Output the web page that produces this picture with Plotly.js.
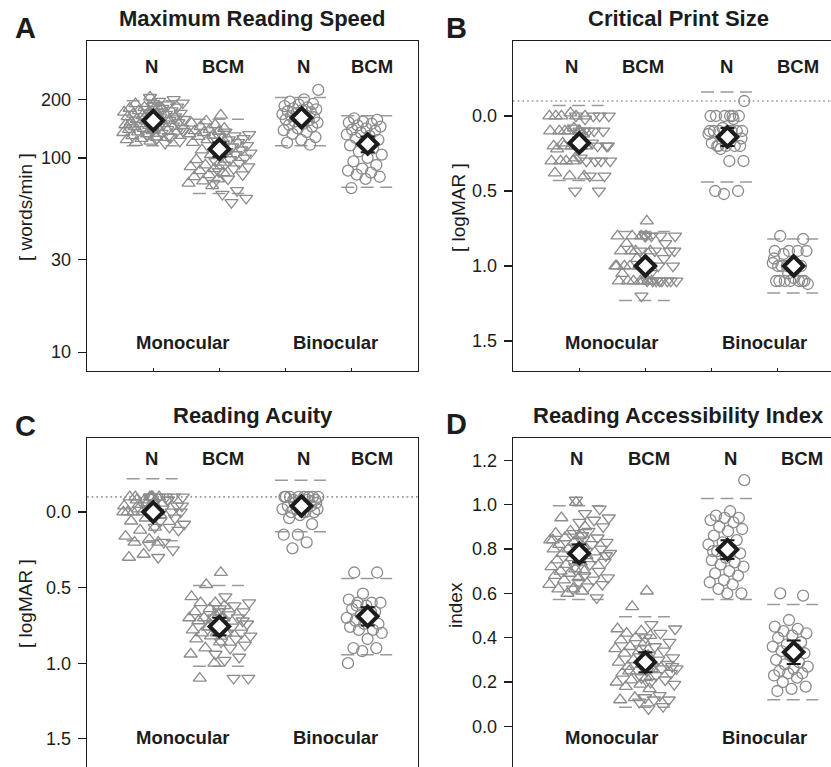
<!DOCTYPE html>
<html><head><meta charset="utf-8">
<script src="https://cdn.plot.ly/plotly-3.0.1.min.js"></script>
<style>html,body{margin:0;padding:0;overflow:hidden;background:#fff}#chart{width:850px;height:790px}</style>
</head><body><div id="chart"></div><script>
// ---------- labels ----------
const panelLetters = ['A', 'B', 'C', 'D'];
const panelTitles = ['Maximum Reading Speed', 'Critical Print Size', 'Reading Acuity', 'Reading Accessibility Index'];
const yTitles = ['[ words/min ]', '[ logMAR ]', '[ logMAR ]', 'index'];
const groupLabels = ['N', 'BCM', 'N', 'BCM'];
const viewLabels = ['Monocular', 'Binocular'];
const speedTicks = [10, 30, 100, 200];
const logmarTicks = ['0.0', '0.5', '1.0', '1.5'];
const indexTicks = ['0.0', '0.2', '0.4', '0.6', '0.8', '1.0', '1.2'];

// ---------- A: maximum reading speed (words/min) ----------
const speedMonoNUp = [206,190,185,182,180,178,175,172,170,168,166,165,163,160,158,157,155,153,152,150,148,147,145,143,142,140,138,136,135,133,130,128,126,124,122,120,176,162,149,139];
const speedMonoNDown = [205,200,196,192,188,185,183,180,178,175,172,170,168,165,163,161,158,156,154,152,150,148,146,144,142,140,138,136,134,131,128,125,122,119,171,159,147,137,129,186];
const speedMonoBCMUp = [166,155,151,148,145,142,140,138,137,135,133,131,129,126,124,120,115,110,108,104,98,95,92,90,88,86,84,82,80,78,76,74,72];
const speedMonoBCMDown = [136,132,130,128,126,124,122,120,118,116,114,112,110,108,106,104,102,100,98,96,94,92,90,88,85,82,78,74,68,65,62,59];
const speedBinoN = [224,200,195,190,188,185,182,180,178,176,174,172,170,168,166,164,162,160,158,156,154,152,150,148,145,142,139,136,133,128,124,120,117];
const speedBinoBCM = [160,157,154,152,150,147,145,142,140,138,135,132,130,127,124,120,116,112,108,104,100,96,92,88,86,84,82,80,78,70];
const speedMeans = [155.7, 111, 161, 118];
const speedErrPlus = [5, 9, 7, 11];
const speedErrMinus = [5, 9.5, 7, 11];
const speedUpper = [197, 158, 205, 165];
const speedLower = [115.7, 65.7, 115.7, 70.7];

// ---------- B: critical print size (logMAR) ----------
const cpsMonoNUp = [0.0,0.0,0.0,-0.02,0.0,0.1,0.1,0.1,0.08,0.1,0.12,0.1,0.2,0.2,0.18,0.2,0.2,0.22,0.2,0.3,0.3,0.28,0.3,0.4,0.4,0.38,0.1,0.2,0.0,0.3];
const cpsMonoNDown = [0.0,0.0,0.02,0.0,0.1,0.1,0.1,0.1,0.08,0.2,0.2,0.2,0.18,0.2,0.3,0.3,0.3,0.3,0.28,0.4,0.4,0.5,0.5,0.1,0.2,0.0];
const cpsMonoBCMUp = [0.7,0.8,0.8,0.8,0.85,0.9,0.9,0.9,1.0,1.0,1.0,1.0,1.0,1.1,1.1,1.1,1.1,1.1,1.1,0.95,1.05,0.8,0.9,1.0,1.1];
const cpsMonoBCMDown = [0.8,0.8,0.8,0.8,0.9,0.9,0.9,0.95,1.0,1.0,1.0,1.0,1.1,1.1,1.1,1.1,1.1,1.1,1.1,1.2,0.85,1.05,0.9,1.1,0.8];
const cpsBinoN = [-0.1,0.0,0.0,0.0,0.0,0.0,0.02,0.1,0.1,0.1,0.1,0.1,0.08,0.12,0.1,0.2,0.2,0.2,0.18,0.2,0.22,0.3,0.3,0.5,0.5,0.52,0.1,0.0,0.2,0.15];
const cpsBinoBCM = [0.8,0.82,0.9,0.9,0.9,0.92,0.9,1.0,1.0,1.0,1.0,0.98,1.02,1.0,1.1,1.1,1.1,1.1,1.1,1.12,1.08,1.1,1.1,1.05,0.95];
const cpsMeans = [0.18, 1.0, 0.14, 1.0];
const cpsErr = [0.035, 0.025, 0.06, 0.03];
const cpsUpper = [-0.07, 0.77, -0.16, 0.82];
const cpsLower = [0.43, 1.23, 0.44, 1.18];

// ---------- C: reading acuity (logMAR) ----------
const acuMonoNUp = [-0.1,-0.1,-0.1,-0.08,-0.1,-0.06,-0.05,-0.04,-0.02,0.0,0.0,0.0,0.0,-0.1,-0.08,0.02,0.04,0.06,0.1,0.12,0.16,0.18,0.2,0.2,0.28,0.3,-0.1,-0.02,0.0,-0.06];
const acuMonoNDown = [-0.1,-0.1,-0.1,-0.1,-0.08,-0.06,-0.04,-0.02,-0.02,0.0,0.0,0.0,-0.1,-0.1,0.04,0.06,0.08,0.1,0.1,0.12,0.2,0.22,0.25,0.3,-0.04,-0.08];
const acuMonoBCMUp = [0.4,0.48,0.56,0.6,0.6,0.62,0.64,0.66,0.68,0.7,0.7,0.7,0.72,0.74,0.76,0.78,0.8,0.8,0.8,0.82,0.84,0.86,0.9,0.94,1.0,1.1,0.7,0.76];
const acuMonoBCMDown = [0.56,0.6,0.62,0.64,0.66,0.68,0.7,0.7,0.72,0.74,0.76,0.78,0.8,0.8,0.82,0.84,0.86,0.88,0.9,0.94,0.96,0.98,1.1,1.1,0.66,0.72];
const acuBinoN = [-0.1,-0.1,-0.1,-0.1,-0.1,-0.1,-0.08,-0.08,-0.06,-0.06,-0.04,-0.04,-0.02,-0.02,0.0,0.0,0.0,0.02,-0.1,-0.1,-0.06,-0.02,0.0,0.04,0.08,0.15,0.15,0.2,0.24,-0.08];
const acuBinoBCM = [0.4,0.4,0.54,0.58,0.6,0.6,0.6,0.62,0.64,0.66,0.68,0.7,0.7,0.72,0.74,0.74,0.76,0.78,0.78,0.8,0.84,0.9,0.9,0.92,1.0,0.66,0.62];
const acuMeans = [0.0, 0.757, -0.04, 0.69];
const acuErr = [0.03, 0.058, 0.03, 0.06];
const acuUpper = [-0.22, 0.486, -0.21, 0.44];
const acuLower = [0.19, 1.02, 0.13, 0.945];

// ---------- D: reading accessibility index ----------
const raiMonoNUp = [1.01,0.94,0.9,0.88,0.87,0.86,0.85,0.84,0.83,0.82,0.81,0.8,0.8,0.79,0.78,0.77,0.76,0.75,0.74,0.73,0.72,0.71,0.7,0.7,0.69,0.68,0.67,0.66,0.64,0.62,0.62,0.61,0.6,0.84,0.78];
const raiMonoNDown = [1.02,0.98,0.96,0.94,0.93,0.92,0.9,0.88,0.87,0.85,0.84,0.83,0.82,0.81,0.8,0.79,0.78,0.76,0.75,0.74,0.73,0.72,0.7,0.68,0.67,0.66,0.65,0.64,0.63,0.62,0.58,0.86,0.77];
const raiMonoBCMUp = [0.61,0.54,0.44,0.43,0.42,0.41,0.4,0.39,0.38,0.36,0.35,0.34,0.33,0.32,0.3,0.29,0.28,0.27,0.26,0.25,0.24,0.22,0.21,0.2,0.19,0.18,0.17,0.13,0.12,0.3,0.25];
const raiMonoBCMDown = [0.46,0.44,0.42,0.4,0.38,0.36,0.35,0.34,0.32,0.31,0.3,0.29,0.28,0.27,0.26,0.26,0.25,0.24,0.23,0.22,0.21,0.2,0.19,0.14,0.13,0.12,0.12,0.11,0.09,0.08,0.27];
const raiBinoN = [1.11,0.97,0.95,0.94,0.94,0.93,0.92,0.9,0.89,0.88,0.86,0.84,0.83,0.82,0.8,0.79,0.78,0.76,0.75,0.74,0.73,0.72,0.7,0.69,0.68,0.66,0.65,0.64,0.62,0.6,0.6,0.79];
const raiBinoBCM = [0.6,0.59,0.48,0.45,0.44,0.43,0.42,0.41,0.4,0.38,0.37,0.36,0.35,0.34,0.33,0.32,0.3,0.29,0.28,0.27,0.26,0.25,0.24,0.24,0.23,0.22,0.2,0.18,0.17,0.16];
const raiMeans = [0.78, 0.29, 0.797, 0.335];
const raiErr = [0.04, 0.045, 0.042, 0.053];
const raiUpper = [0.995, 0.494, 1.027, 0.55];
const raiLower = [0.572, 0.087, 0.572, 0.12];

// ---------- layout helpers ----------
const W = 850, H = 790;
const GRAY = '#8c8c8c', INK = '#1c1c1c';
const FONT = 'Liberation Sans, Arial, sans-serif';
const centers = [1, 2, 3.24, 4.24];
const px = x => x / W, py = y => 1 - y / H;

function spread(n, lo, width, phase) {
  const out = [];
  for (let i = 0; i < n; i++) out.push(lo + width * (((i + 1) * 0.6180339887 + phase) % 1));
  return out;
}

const panels = [
  {mU: speedMonoNUp, mD: speedMonoNDown, bU: speedMonoBCMUp, bD: speedMonoBCMDown, bn: speedBinoN, bb: speedBinoBCM,
   means: speedMeans, ep: speedErrPlus, em: speedErrMinus, up: speedUpper, lo: speedLower, dotted: false},
  {mU: cpsMonoNUp, mD: cpsMonoNDown, bU: cpsMonoBCMUp, bD: cpsMonoBCMDown, bn: cpsBinoN, bb: cpsBinoBCM,
   means: cpsMeans, ep: cpsErr, em: cpsErr, up: cpsUpper, lo: cpsLower, dotted: true},
  {mU: acuMonoNUp, mD: acuMonoNDown, bU: acuMonoBCMUp, bD: acuMonoBCMDown, bn: acuBinoN, bb: acuBinoBCM,
   means: acuMeans, ep: acuErr, em: acuErr, up: acuUpper, lo: acuLower, dotted: true},
  {mU: raiMonoNUp, mD: raiMonoNDown, bU: raiMonoBCMUp, bD: raiMonoBCMDown, bn: raiBinoN, bb: raiBinoBCM,
   means: raiMeans, ep: raiErr, em: raiErr, up: raiUpper, lo: raiLower, dotted: false}
];

const traces = [];
panels.forEach((d, k) => {
  const xa = k === 0 ? 'x' : 'x' + (k + 1), ya = k === 0 ? 'y' : 'y' + (k + 1);
  const mk = (sym, size) => ({symbol: sym, size: size, color: GRAY, line: {color: GRAY, width: 1.3}});
  const dx = [], dy = [];
  for (let g = 0; g < 4; g++) {
    const c = centers[g];
    dx.push(c - 0.4, c + 0.37, null, c - 0.4, c + 0.37, null);
    dy.push(d.up[g], d.up[g], null, d.lo[g], d.lo[g], null);
  }
  traces.push({x: dx, y: dy, xaxis: xa, yaxis: ya, mode: 'lines', connectgaps: false,
    line: {color: '#9a9a9a', width: 1.5, dash: '13px,6.5px'}, hoverinfo: 'skip'});
  if (d.dotted) {
    traces.push({x: [0, 5], y: [-0.1, -0.1], xaxis: xa, yaxis: ya, mode: 'lines',
      line: {color: '#9a9a9a', width: 1.7, dash: '1.7px,3px'}, hoverinfo: 'skip'});
  }
  const add = (vals, xs, sym, size) => traces.push({x: xs, y: vals, xaxis: xa, yaxis: ya, mode: 'markers', marker: mk(sym, size)});
  add(d.mU, spread(d.mU.length, centers[0] - 0.47, 0.58, 0.11), 'triangle-up-open', 11.5);
  add(d.mD, spread(d.mD.length, centers[0] - 0.1, 0.58, 0.47), 'triangle-down-open', 11.5);
  add(d.bU, spread(d.bU.length, centers[1] - 0.47, 0.58, 0.23), 'triangle-up-open', 11.5);
  add(d.bD, spread(d.bD.length, centers[1] - 0.1, 0.58, 0.71), 'triangle-down-open', 11.5);
  add(d.bn, spread(d.bn.length, centers[2] - 0.3, 0.56, 0.37), 'circle-open', 11);
  add(d.bb, spread(d.bb.length, centers[3] - 0.32, 0.56, 0.59), 'circle-open', 11);
  traces.push({x: centers, y: d.means, xaxis: xa, yaxis: ya, mode: 'markers',
    marker: {symbol: 'diamond', size: 15, color: '#ffffff', line: {color: INK, width: 4}},
    error_y: {type: 'data', symmetric: false, array: d.ep, arrayminus: d.em, color: INK, thickness: 2, width: 7}});
});

const xDomL = [px(87), px(418)], xDomR = [px(513), px(844)];
const yDomT = [py(371), py(41)], yDomB = [py(772), py(438)];

const baseX = dom => ({domain: dom, range: [0, 5], tickvals: [1, 2, 3, 4], showticklabels: false,
  ticks: 'inside', ticklen: 3, tickcolor: INK, showline: true, linecolor: INK, linewidth: 1.3,
  mirror: true, showgrid: false, zeroline: false, fixedrange: true});
const baseY = (dom, anchor) => ({domain: dom, anchor: anchor, showline: true, linecolor: INK, linewidth: 1.3,
  mirror: true, ticks: 'outside', ticklen: 8, tickwidth: 1.3, tickcolor: INK, showgrid: false, zeroline: false,
  tickfont: {family: FONT, size: 18, color: INK}, ticklabelstandoff: 3});

const layout = {
  width: W, height: H, margin: {l: 0, r: 0, t: 0, b: 0}, showlegend: false,
  paper_bgcolor: '#fff', plot_bgcolor: '#fff', font: {family: FONT, color: INK},
  xaxis: Object.assign(baseX(xDomL), {anchor: 'y'}),
  xaxis2: Object.assign(baseX(xDomR), {anchor: 'y2'}),
  xaxis3: Object.assign(baseX(xDomL), {anchor: 'y3'}),
  xaxis4: Object.assign(baseX(xDomR), {anchor: 'y4'}),
  yaxis: Object.assign(baseY(yDomT, 'x'), {type: 'log', range: [Math.log10(8), Math.log10(400)],
    tickvals: speedTicks, ticktext: speedTicks.map(String)}),
  yaxis2: Object.assign(baseY(yDomT, 'x2'), {range: [1.7, -0.5], tickvals: logmarTicks.map(Number), ticktext: logmarTicks}),
  yaxis3: Object.assign(baseY(yDomB, 'x3'), {range: [1.72, -0.49], tickvals: logmarTicks.map(Number), ticktext: logmarTicks}),
  yaxis4: Object.assign(baseY(yDomB, 'x4'), {range: [-0.205, 1.3], tickvals: indexTicks.map(Number), ticktext: indexTicks}),
  annotations: []
};

const ann = (text, x, y, size, bold, extra) => layout.annotations.push(Object.assign({
  text: bold ? '<b>' + text + '</b>' : text, x: x, y: y, xref: 'paper', yref: 'paper',
  showarrow: false, xanchor: 'center', yanchor: 'middle', font: {family: FONT, size: size, color: INK}}, extra || {}));

const letterPos = [[25, 28], [456, 28], [25, 426], [456, 424]];
const titlePos = [[252.5, 18], [678.5, 18], [252.5, 415], [678.5, 415]];
const yTitlePos = [[25, 207], [458, 208], [25, 604], [455, 605]];
for (let k = 0; k < 4; k++) {
  ann(panelLetters[k], px(letterPos[k][0]), py(letterPos[k][1]), 29, true);
  ann(panelTitles[k], px(titlePos[k][0]), py(titlePos[k][1]), 22, true);
  ann(yTitles[k], px(yTitlePos[k][0]), py(yTitlePos[k][1]), 19, false, {textangle: -90});
}
const groupX = [[0.97, 2.05, 3.27, 4.31], [0.88, 1.97, 3.22, 4.3], [0.97, 2.05, 3.27, 4.31], [0.96, 2.05, 3.28, 4.37]];
const viewX = [[1.45, 3.76], [1.49, 3.8], [1.45, 3.76], [1.49, 3.8]];
const groupY = [66, 66, 458, 458];
const viewY = [342, 342, 737, 737];
for (let k = 0; k < 4; k++) {
  const xr = k === 0 ? 'x' : 'x' + (k + 1);
  groupLabels.forEach((g, i) => ann(g, groupX[k][i], py(groupY[k]), 18.5, true, {xref: xr}));
  viewLabels.forEach((v, i) => ann(v, viewX[k][i], py(viewY[k]), 18.5, true, {xref: xr}));
}

Plotly.newPlot('chart', traces, layout, {staticPlot: true, displayModeBar: false});
</script></body></html>
